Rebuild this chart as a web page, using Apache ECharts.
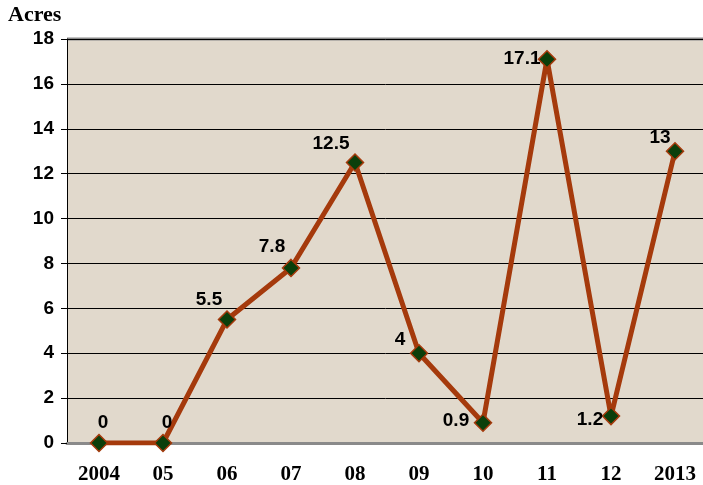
<!DOCTYPE html>
<html><head><meta charset="utf-8">
<script src="https://cdn.jsdelivr.net/npm/echarts@6/dist/echarts.min.js"></script>
<style>html,body{margin:0;padding:0;background:#fff}#c{width:703px;height:485px}</style>
</head><body><div id="c"></div>
<script>
const categories = ['2004','05','06','07','08','09','10','11','12','2013'];
const acres = [0, 0, 5.5, 7.8, 12.5, 4, 0.9, 17.1, 1.2, 13];
const labelOffsets = [[4,-20],[4,-20],[-18,-20],[-19,-21],[-24,-19],[-19,-13],[-27,-2],[-25,0],[-21,4],[-15,-13]];
const yTicks = [0,2,4,6,8,10,12,14,16,18];

const SANS = '"Liberation Sans", Arial, sans-serif';
const chart = echarts.init(document.getElementById('c'), null, {renderer:'canvas'});
chart.setOption({
  animation:false,
  backgroundColor:'#ffffff',
  grid:{left:67,width:640,top:39,height:404,show:true,backgroundColor:'#e1d9cc',borderWidth:0,
    containLabel:false,outerBoundsMode:'none'},
  graphic:[
    {type:'text',left:8,top:4,style:{text:'Acres',font:'bold 22px "Liberation Serif"',fill:'#000'}},
    {type:'line',shape:{x1:67,y1:39,x2:703,y2:39},style:{stroke:'#8a8a8a',lineWidth:3}}
  ],
  xAxis:{type:'category',data:categories,boundaryGap:true,
    axisLine:{lineStyle:{color:'#8a8a8a',width:3}},
    axisTick:{show:false},
    axisLabel:{margin:21,color:'#000',fontFamily:'Liberation Serif',fontWeight:'bold',fontSize:21,interval:0}},
  yAxis:{type:'value',min:0,max:18,interval:2,
    axisLine:{show:true,lineStyle:{color:'#000',width:1}},
    axisTick:{show:true,length:6,lineStyle:{color:'#000'}},
    splitLine:{show:true,lineStyle:{color:'#000',width:1}},
    axisLabel:{margin:13,color:'#000',fontFamily:SANS,fontWeight:'bold',fontSize:19,
      formatter:v=>yTicks.includes(v)?String(v):''}},
  series:[{type:'line',
    data:acres.map((v,i)=>({value:v,label:{offset:labelOffsets[i]}})),
    lineStyle:{color:'#a53a0c',width:5},
    symbol:'diamond',symbolSize:17,
    itemStyle:{color:'#0b3f0b',borderColor:'#a53a0c',borderWidth:1.5},
    label:{show:true,position:'inside',align:'center',verticalAlign:'middle',
      color:'#000',fontFamily:SANS,fontWeight:'bold',fontSize:19},
    z:5}]
});
</script></body></html>
